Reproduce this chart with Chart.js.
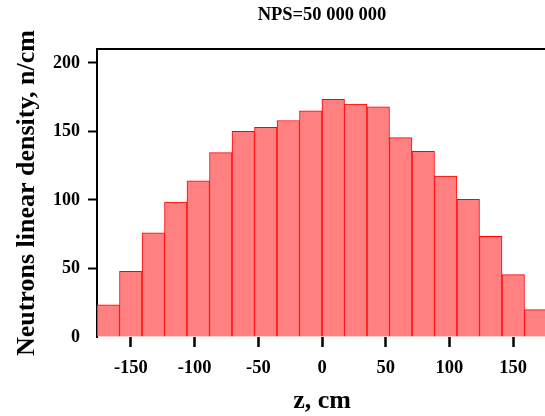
<!DOCTYPE html>
<html>
<head>
<meta charset="utf-8">
<script src="https://cdn.jsdelivr.net/npm/chart.js@4"></script>
<style>
  html, body { margin: 0; padding: 0; background: #fff; overflow: hidden; }
  #wrap { position: relative; width: 560px; height: 416px; }
</style>
</head>
<body>
<div id="wrap"><canvas id="chart"></canvas></div>
<script>
// ---- data ----
const titleText = 'NPS=50 000 000';
const xTitle = 'z, cm';
const yTitle = 'Neutrons linear density, n/cm';

// bin centres, cm (bins are ~17.66 cm wide)
const zCenters = [-167.77, -150.11, -132.45, -114.79, -97.13, -79.47, -61.81, -44.15, -26.49, -8.83,
                  8.83, 26.49, 44.15, 61.81, 79.47, 97.13, 114.79, 132.45, 150.11, 167.77];
// neutron linear density, n/cm
const density = [23.5, 48, 76, 98.5, 114, 134.5, 150, 153, 158, 165,
                 173.5, 170, 168, 145.5, 135.5, 117.5, 100.5, 73.5, 45.5, 20];

const xTicks = [-150, -100, -50, 0, 50, 100, 150];
const yTicks = [0, 50, 100, 150, 200];
const zMin = -176.6, zMax = 176.6;
const yMax = 210;

const serif = '"Liberation Serif", "Times New Roman", serif';

const points = zCenters.map((z, i) => ({ x: z, y: density[i] }));

new Chart(document.getElementById('chart'), {
  type: 'bar',
  data: {
    datasets: [{
      data: points,
      backgroundColor: '#FF8080',
      borderColor: '#FF0000',
      borderWidth: 1,
      barPercentage: 1,
      categoryPercentage: 1
    }]
  },
  options: {
    responsive: true,
    maintainAspectRatio: false,
    animation: false,
    layout: { padding: { left: 0, right: 13, top: 0, bottom: 0 } },
    plugins: {
      legend: { display: false },
      tooltip: { enabled: false },
      title: {
        display: true,
        text: titleText,
        fullSize: false,
        color: '#000',
        font: { family: serif, size: 18.5, weight: 'bold', lineHeight: 1.2 },
        padding: { top: 4, bottom: 23 }
      }
    },
    scales: {
      x: {
        type: 'linear',
        position: 'bottom',
        offset: false,
        min: zMin,
        max: zMax,
        afterBuildTicks: s => { s.ticks = xTicks.map(v => ({ value: v })); },
        afterFit: s => { s.height = 79; },
        border: { display: false },
        grid: { offset: false, drawOnChartArea: false, drawTicks: true, tickLength: 10, tickWidth: 2.5, tickColor: '#000' },
        ticks: { color: '#000', padding: 10, maxRotation: 0, font: { family: serif, size: 18.5, weight: 'bold' } },
        title: {
          display: true, text: xTitle, color: '#000',
          font: { family: serif, size: 26, weight: 'bold', lineHeight: 1.1 },
          padding: { top: 0, bottom: 0 }
        }
      },
      xTop: {
        type: 'linear',
        position: 'top',
        offset: false,
        min: zMin,
        max: zMax,
        afterFit: s => { s.height = 0; },
        border: { display: true, color: '#000', width: 2 },
        grid: { display: false },
        ticks: { display: false }
      },
      y: {
        min: 0,
        max: yMax,
        afterBuildTicks: s => { s.ticks = yTicks.map(v => ({ value: v })); },
        afterFit: s => { s.width = 97; },
        border: { display: true, color: '#000', width: 2 },
        grid: {
          drawOnChartArea: false, drawTicks: true, tickLength: 9, tickWidth: 2,
          tickColor: ctx => (ctx.tick && ctx.tick.value === 0) ? 'rgba(0,0,0,0)' : '#000'
        },
        ticks: { color: '#000', padding: 8, font: { family: serif, size: 18, weight: 'bold' } },
        title: {
          display: true, text: yTitle, color: '#000',
          font: { family: serif, size: 26, weight: 'bold', lineHeight: 1.2 },
          padding: { top: 12, bottom: 0 }
        }
      }
    }
  }
});
</script>
</body>
</html>
